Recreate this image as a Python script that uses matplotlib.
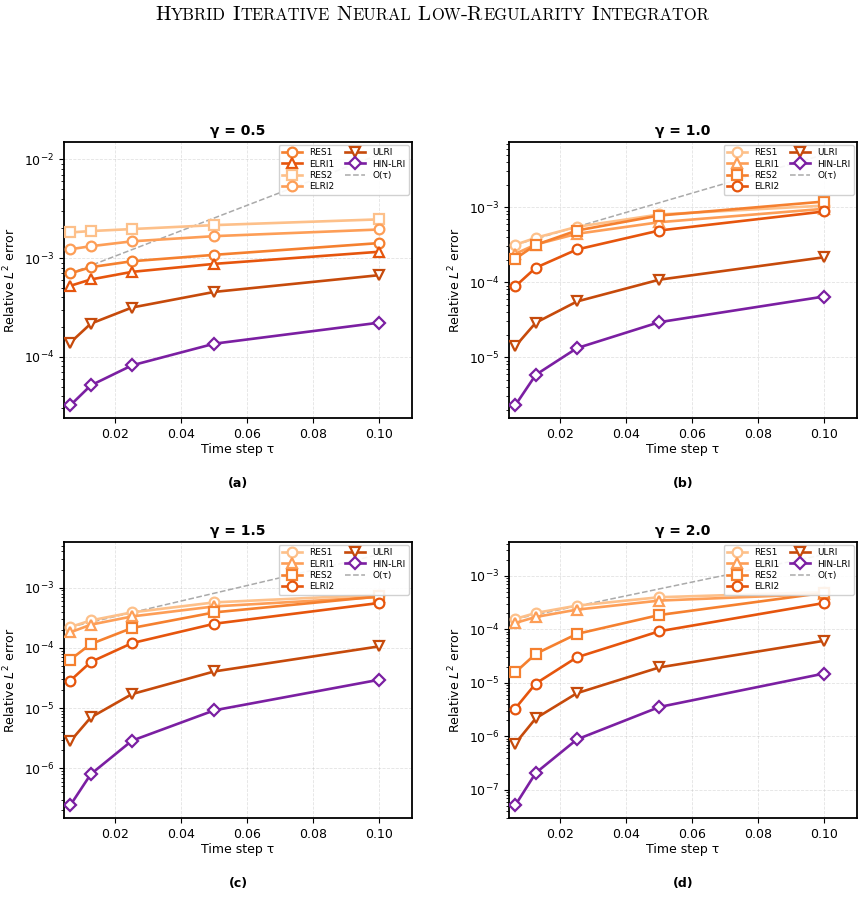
#!/usr/bin/env python3
"""Convergence of low-regularity integrators vs time step, four gamma values."""

import matplotlib

matplotlib.use("Agg")
import matplotlib.pyplot as plt
import numpy as np

# time steps
tau = [0.00625, 0.0125, 0.025, 0.05, 0.1]
gammas = [0.5, 1.0, 1.5, 2.0]
panel_tags = ["(a)", "(b)", "(c)", "(d)"]

# relative L2 errors, one list per gamma
res1 = [
    [7.0e-4, 8.1e-4, 9.3e-4, 1.08e-3, 1.42e-3],
    [3.15e-4, 3.91e-4, 5.48e-4, 8.0e-4, 1.05e-3],
    [2.22e-4, 2.86e-4, 3.89e-4, 5.7e-4, 7.65e-4],
    [1.56e-4, 2.02e-4, 2.77e-4, 3.98e-4, 4.94e-4],
]
elri1 = [
    [5.24e-4, 6.08e-4, 7.26e-4, 8.75e-4, 1.16e-3],
    [2.39e-4, 3.18e-4, 4.42e-4, 6.31e-4, 9.52e-4],
    [1.81e-4, 2.43e-4, 3.33e-4, 4.89e-4, 7.0e-4],
    [1.31e-4, 1.70e-4, 2.33e-4, 3.44e-4, 4.59e-4],
]
res2 = [
    [1.82e-3, 1.88e-3, 1.97e-3, 2.16e-3, 2.47e-3],
    [2.05e-4, 3.15e-4, 4.89e-4, 7.75e-4, 1.19e-3],
    [6.37e-5, 1.16e-4, 2.14e-4, 3.89e-4, 7.16e-4],
    [1.56e-5, 3.48e-5, 8.2e-5, 1.85e-4, 4.8e-4],
]
elri2 = [
    [1.23e-3, 1.32e-3, 1.48e-3, 1.67e-3, 1.95e-3],
    [8.77e-5, 1.56e-4, 2.73e-4, 4.89e-4, 8.77e-4],
    [2.85e-5, 5.83e-5, 1.2e-4, 2.52e-4, 5.57e-4],
    [3.3e-6, 9.7e-6, 3.0e-5, 9.2e-5, 3.1e-4],
]
ulri = [
    [1.39e-4, 2.17e-4, 3.16e-4, 4.55e-4, 6.72e-4],
    [1.39e-5, 2.88e-5, 5.53e-5, 1.08e-4, 2.15e-4],
    [2.8e-6, 7.0e-6, 1.71e-5, 4.07e-5, 1.06e-4],
    [7.3e-7, 2.17e-6, 6.4e-6, 1.94e-5, 6.1e-5],
]
hin_lri = [
    [3.22e-5, 5.14e-5, 8.2e-5, 1.36e-4, 2.22e-4],
    [2.27e-6, 5.82e-6, 1.32e-5, 2.93e-5, 6.44e-5],
    [2.42e-7, 8.0e-7, 2.88e-6, 9.2e-6, 2.96e-5],
    [5.1e-8, 2.07e-7, 8.75e-7, 3.53e-6, 1.49e-5],
]

# orange shades, lightest for the largest error at the smallest step
orange_shades = ["#fdc08a", "#fd9e57", "#f5802f", "#e6550d"]
ulri_color = "#c64a0b"
hin_color = "#7b1fa2"

plt.rcParams["font.family"] = "DejaVu Sans"

fig = plt.figure(figsize=(8.65, 9.18), dpi=100)

# small-caps style title built from pieces
title = "Hybrid Iterative Neural Low-Regularity Integrator"
runs = []
for ch in title:
    big = not ch.islower()
    if runs and runs[-1][1] == big:
        runs[-1][0] += ch.upper()
    else:
        runs.append([ch.upper(), big])
renderer = fig.canvas.get_renderer()
pieces = []
total = 0.0
for txt, big in runs:
    t = fig.text(0, 0, txt, family="cmr10", fontsize=15 if big else 11.9,
                 va="baseline", ha="left")
    w = t.get_window_extent(renderer).width
    pieces.append((t, w))
    total += w
x0 = (fig.bbox.width - total) / 2
for t, w in pieces:
    t.set_position((x0 / fig.bbox.width, 1 - 20 / 918))
    x0 += w

W, H = 865, 918
boxes = [(64, 142), (509, 142), (64, 542), (509, 542)]
aw, ah = 348, 276

for i, g in enumerate(gammas):
    left, top = boxes[i]
    ax = fig.add_axes([left / W, 1 - (top + ah) / H, aw / W, ah / H])

    series = [
        ("RES1", res1[i], "o"),
        ("ELRI1", elri1[i], "^"),
        ("RES2", res2[i], "s"),
        ("ELRI2", elri2[i], "o"),
    ]
    order = np.argsort([-s[1][0] for s in series])
    shade = {}
    for rank, idx in enumerate(order):
        shade[series[idx][0]] = orange_shades[rank]

    for name, vals, mk in series:
        ax.plot(tau, vals, marker=mk, color=shade[name], lw=1.9, ms=7,
                mfc="white", mew=1.6, label=name, zorder=3)
    ax.plot(tau, ulri[i], marker="v", color=ulri_color, lw=1.9, ms=7,
            mfc="white", mew=1.6, label="ULRI", zorder=3)
    ax.plot(tau, hin_lri[i], marker="D", color=hin_color, lw=1.9, ms=6.5,
            mfc="white", mew=1.6, label="HIN-LRI", zorder=4)

    # first-order reference through the first RES1 point
    t_ref = [tau[0], tau[-1]]
    ref = [res1[i][0] * t / tau[0] for t in t_ref]
    ax.plot(t_ref, ref, ls="--", color="#aaaaaa", lw=1.1, label="O(τ)", zorder=2)

    ax.set_yscale("log")
    ax.set_xlim(0.7 * min(tau), 1.1 * max(tau))
    ax.set_xticks([0.02, 0.04, 0.06, 0.08, 0.10])
    ax.set_xticklabels(["0.02", "0.04", "0.06", "0.08", "0.10"])
    ax.tick_params(labelsize=9)
    ax.grid(True, which="major", ls="--", lw=0.6, alpha=0.35)
    for sp in ax.spines.values():
        sp.set_linewidth(1.3)

    ax.set_xlabel("Time step τ", fontsize=9, labelpad=2)
    ax.set_ylabel("Relative $L^2$ error", fontsize=9)
    ax.set_title(f"γ = {g}", fontsize=10, fontweight="bold", pad=5)
    ax.legend(ncol=2, loc="upper right", fontsize=6.5, labelspacing=0.25,
              columnspacing=1.2, handlelength=2.2, borderpad=0.4,
              framealpha=0.9, borderaxespad=0.3)

    fig.text((left + aw / 2) / W, 1 - (top + ah + 66) / H, panel_tags[i],
             ha="center", va="center", fontsize=9, fontweight="bold")

plt.savefig("out.png", dpi=100)
plt.close()
